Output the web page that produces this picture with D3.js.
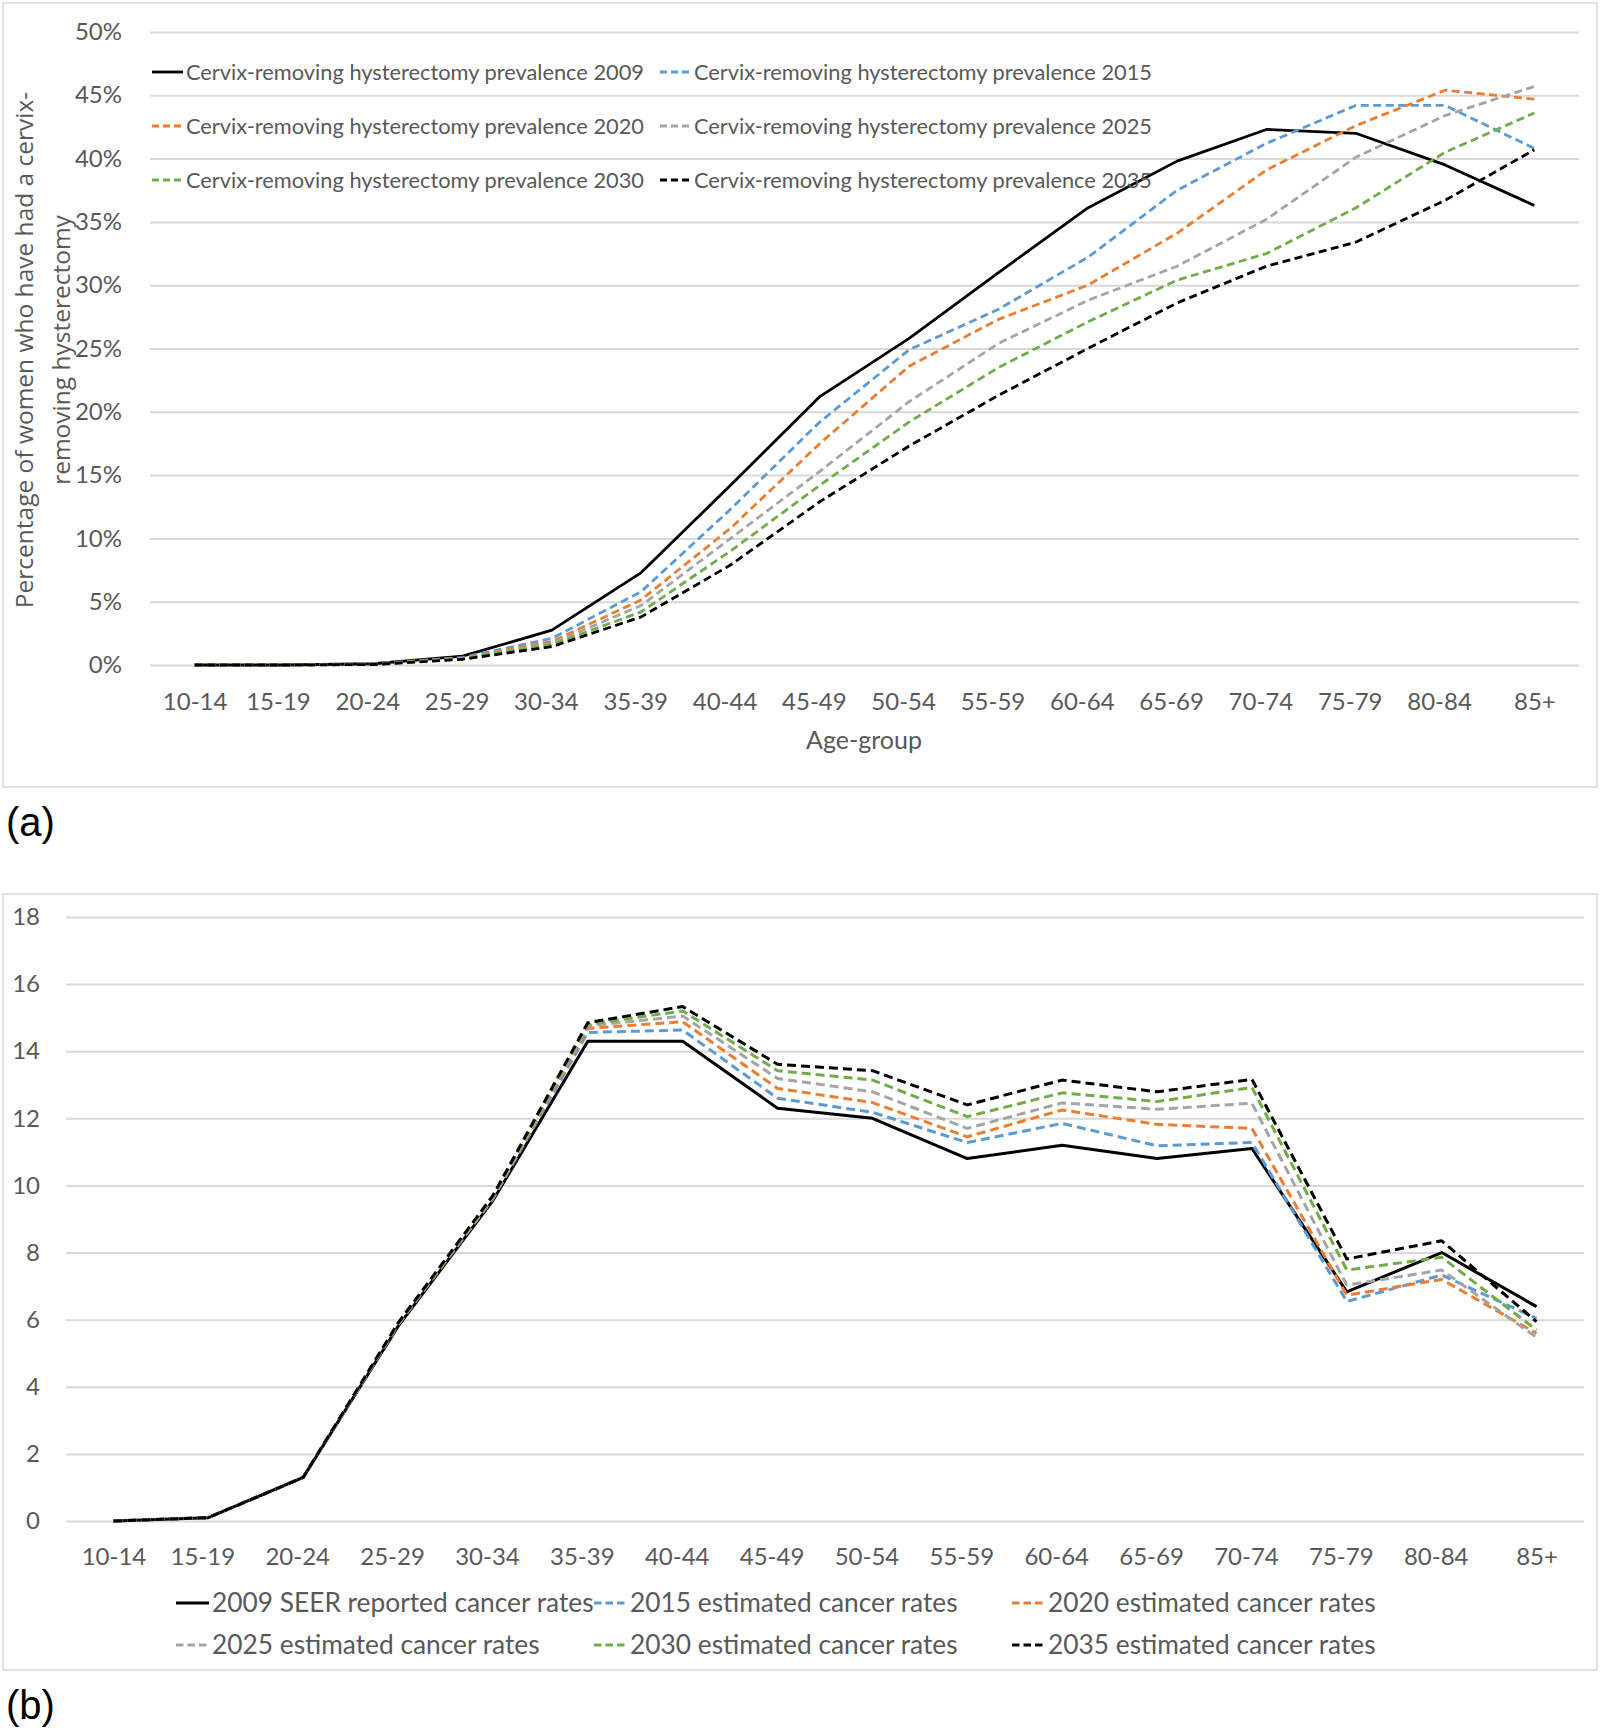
<!DOCTYPE html>
<html>
<head>
<meta charset="utf-8">
<script src="https://cdn.jsdelivr.net/npm/d3@7"></script>
<style>
  body { margin: 0; background: #fff; }
  svg { display: block; }
</style>
</head>
<body>
<svg id="chart" width="1600" height="1730"></svg>
<script>
// ---------- DATA ----------
const categories = ["10-14","15-19","20-24","25-29","30-34","35-39","40-44","45-49","50-54","55-59","60-64","65-69","70-74","75-79","80-84","85+"];

// Panel (a): prevalence of cervix-removing hysterectomy (%)
const prevNames = [
  "Cervix-removing hysterectomy prevalence 2009",
  "Cervix-removing hysterectomy prevalence 2015",
  "Cervix-removing hysterectomy prevalence 2020",
  "Cervix-removing hysterectomy prevalence 2025",
  "Cervix-removing hysterectomy prevalence 2030",
  "Cervix-removing hysterectomy prevalence 2035"
];
const prev2009 = [0, 0, 0.1, 0.7, 2.75, 7.3, 14.2, 21.2, 25.8, 31.0, 36.1, 39.8, 42.3, 42.0, 39.5, 36.3];
const prev2015 = [0, 0, 0.08, 0.6, 2.1, 5.8, 12.3, 19.2, 24.9, 28.1, 32.2, 37.5, 41.2, 44.2, 44.2, 40.8];
const prev2020 = [0, 0, 0.07, 0.55, 1.85, 5.15, 10.8, 17.5, 23.6, 27.3, 30.0, 34.1, 39.1, 42.6, 45.4, 44.7];
const prev2025 = [0, 0, 0.06, 0.5, 1.7, 4.7, 10.0, 15.3, 20.8, 25.4, 28.8, 31.5, 35.2, 40.1, 43.4, 45.7];
const prev2030 = [0, 0, 0.05, 0.5, 1.6, 4.2, 9.0, 14.2, 19.2, 23.5, 27.1, 30.4, 32.5, 36.1, 40.5, 43.6];
const prev2035 = [0, 0, 0.04, 0.45, 1.45, 3.8, 7.9, 12.9, 17.3, 21.3, 25.0, 28.6, 31.5, 33.4, 36.7, 40.7];
const prevTicks = [0, 5, 10, 15, 20, 25, 30, 35, 40, 45, 50];

// Panel (b): cancer rates
const rateNames = [
  "2009 SEER reported cancer rates",
  "2015 estimated cancer rates",
  "2020 estimated cancer rates",
  "2025 estimated cancer rates",
  "2030 estimated cancer rates",
  "2035 estimated cancer rates"
];
const rate2009 = [0, 0.1, 1.3, 5.8, 9.55, 14.3, 14.3, 12.3, 12.0, 10.8, 11.2, 10.8, 11.1, 6.83, 8.0, 6.39];
const rate2015 = [0, 0.1, 1.3, 5.85, 9.6, 14.56, 14.63, 12.6, 12.18, 11.28, 11.85, 11.18, 11.28, 6.54, 7.33, 6.04];
const rate2020 = [0, 0.1, 1.3, 5.85, 9.62, 14.68, 14.88, 12.89, 12.47, 11.45, 12.25, 11.82, 11.70, 6.73, 7.2, 5.59];
const rate2025 = [0, 0.1, 1.3, 5.87, 9.65, 14.75, 15.05, 13.19, 12.79, 11.70, 12.46, 12.27, 12.45, 7.03, 7.48, 5.47];
const rate2030 = [0, 0.1, 1.3, 5.88, 9.67, 14.8, 15.2, 13.42, 13.14, 12.05, 12.76, 12.5, 12.92, 7.48, 7.86, 5.69];
const rate2035 = [0, 0.1, 1.3, 5.9, 9.7, 14.85, 15.33, 13.61, 13.42, 12.4, 13.14, 12.79, 13.16, 7.81, 8.35, 5.94];
const rateTicks = [0, 2, 4, 6, 8, 10, 12, 14, 16, 18];

const seriesColors = ["#000000", "#5B9BD5", "#ED7D31", "#A5A5A5", "#70AD47", "#000000"];
const seriesDashed = [false, true, true, true, true, true];

// ---------- DRAW ----------
const svg = d3.select("#chart");
svg.append("rect").attr("width", 1600).attr("height", 1730).attr("fill", "#fff");

const textGrey = "#595959";
const gridGrey = "#d9d9d9";
const labelFont = "Lato, 'Open Sans', sans-serif";

function panel(opts) {
  const g = svg.append("g");
  // frame
  g.append("rect")
    .attr("x", opts.frame[0]).attr("y", opts.frame[1])
    .attr("width", opts.frame[2]).attr("height", opts.frame[3])
    .attr("fill", "#fff").attr("stroke", gridGrey).attr("stroke-width", 1.5);

  const x = d3.scalePoint().domain(categories).range([opts.left, opts.right]).padding(0.5);
  const y = d3.scaleLinear().domain(opts.yDomain).range([opts.bottom, opts.top]);

  // gridlines
  const grid = g.append("g").attr("transform", `translate(${opts.left},0)`)
    .call(d3.axisLeft(y).tickValues(opts.ticks).tickSize(-(opts.right - opts.left)).tickFormat(""));
  grid.select(".domain").remove();
  grid.selectAll(".tick line").attr("stroke", gridGrey).attr("stroke-width", 2);

  // y tick labels
  const yAx = g.append("g").attr("transform", `translate(${opts.yLabelX},0)`)
    .call(d3.axisLeft(y).tickValues(opts.ticks).tickSize(0).tickPadding(0).tickFormat(opts.tickFormat));
  yAx.select(".domain").remove();
  yAx.selectAll("text").attr("fill", textGrey).style("font-family", labelFont)
    .style("font-size", opts.yFont + "px");

  // x tick labels
  const xAx = g.append("g").attr("transform", `translate(0,${opts.xLabelY})`)
    .call(d3.axisBottom(x).tickSize(0).tickPadding(0));
  xAx.select(".domain").remove();
  xAx.selectAll("text").attr("fill", textGrey).attr("dy", "0.35em")
    .attr("dx", (d, i) => (i > 0 && i < categories.length - 1) ? -6 : 0)
    .style("font-family", labelFont).style("font-size", opts.xFont + "px");

  // lines
  const line = d3.line().x((d, i) => x(categories[i])).y(d => y(d));
  opts.series.forEach((s, i) => {
    g.append("path").datum(s)
      .attr("d", line)
      .attr("fill", "none")
      .attr("stroke", seriesColors[i])
      .attr("stroke-width", opts.lineWidth)
      .attr("stroke-linejoin", "round")
      .attr("stroke-dasharray", seriesDashed[i] ? opts.dash : null);
  });

  // legend
  opts.names.forEach((name, i) => {
    const col = i % opts.legCols, row = Math.floor(i / opts.legCols);
    const lx = opts.legX[col], ly = opts.legY[row];
    g.append("line")
      .attr("x1", lx).attr("x2", lx + opts.legLine).attr("y1", ly).attr("y2", ly)
      .attr("stroke", seriesColors[i]).attr("stroke-width", opts.lineWidth)
      .attr("stroke-dasharray", seriesDashed[i] ? opts.legDash : null);
    g.append("text")
      .attr("x", lx + opts.legLine + 3).attr("y", ly).attr("dy", "0.35em")
      .attr("fill", textGrey).style("font-family", labelFont)
      .style("font-size", opts.legFont + "px")
      .text(name);
  });
  return {g, x, y};
}

// Panel (a)
const pa = panel({
  frame: [3, 3, 1594, 784],
  left: 150, right: 1579, top: 32, bottom: 665,
  yDomain: [0, 50], ticks: prevTicks,
  tickFormat: d => d + "%",
  yLabelX: 122, yFont: 24,
  xLabelY: 702, xFont: 24,
  series: [prev2009, prev2015, prev2020, prev2025, prev2030, prev2035],
  lineWidth: 2.8, dash: "8,4.5",
  names: prevNames, legCols: 2, legX: [152, 660], legY: [72, 126, 180],
  legLine: 31, legDash: "7,4", legFont: 21.8
});
// axis titles (a)
pa.g.append("text")
  .attr("x", 864).attr("y", 740).attr("dy", "0.35em").attr("text-anchor", "middle")
  .attr("fill", textGrey).style("font-family", labelFont).style("font-size", "25px")
  .text("Age-group");
const yTitle = pa.g.append("text")
  .attr("transform", "translate(0,350) rotate(-90)")
  .attr("text-anchor", "middle").attr("fill", textGrey)
  .style("font-family", "'Open Sans', sans-serif").style("font-size", "24.5px");
yTitle.append("tspan").attr("x", 0).attr("y", 33).text("Percentage of women who have had a cervix-");
yTitle.append("tspan").attr("x", 0).attr("y", 70).text("removing hysterectomy");

// Panel (b)
panel({
  frame: [3, 894, 1594, 776],
  left: 66, right: 1584, top: 917, bottom: 1521,
  yDomain: [0, 18], ticks: rateTicks,
  tickFormat: d => d,
  yLabelX: 40, yFont: 24,
  xLabelY: 1557, xFont: 24,
  series: [rate2009, rate2015, rate2020, rate2025, rate2030, rate2035],
  lineWidth: 3, dash: "9,5",
  names: rateNames, legCols: 3, legX: [176, 594, 1012], legY: [1603, 1645],
  legLine: 33, legDash: "7.5,4", legFont: 26.3
});

// panel letters
svg.append("text").attr("x", 6).attr("y", 836)
  .style("font-family", "'Liberation Sans', Arial, sans-serif").style("font-size", "40px")
  .attr("fill", "#000").text("(a)");
svg.append("text").attr("x", 6).attr("y", 1719)
  .style("font-family", "'Liberation Sans', Arial, sans-serif").style("font-size", "40px")
  .attr("fill", "#000").text("(b)");
</script>
</body>
</html>
